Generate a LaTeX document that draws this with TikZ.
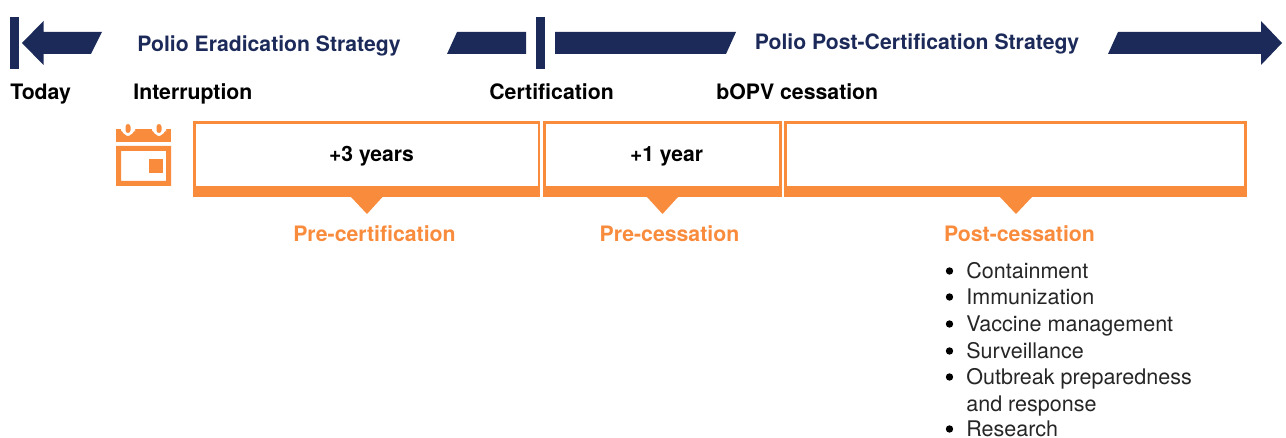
\documentclass[tikz,border=0pt]{standalone}
\usepackage{fontspec}
\setmainfont{TeX Gyre Heros}
\definecolor{navyblue}{HTML}{1C2A5A}
\definecolor{polioorange}{HTML}{F98B3D}
\tikzset{
  navyshape/.style={fill=navyblue, draw=none},
  orangeshape/.style={fill=polioorange, draw=none},
  periodbox/.style={draw=polioorange, line width=1.2pt},
  strategylabel/.style={text=navyblue, inner sep=0pt, font=\fontsize{12.05}{15}\selectfont\bfseries},
  milestone/.style={anchor=base west, inner sep=0pt, font=\fontsize{12.1}{15}\selectfont\bfseries},
  duration/.style={inner sep=0pt, font=\fontsize{12}{15}\selectfont\bfseries},
  phaselabel/.style={text=polioorange, inner sep=0pt, font=\fontsize{12.1}{15}\selectfont\bfseries},
  listitem/.style={anchor=base west, inner sep=0pt, text=black!85, font=\fontsize{12.25}{15}\selectfont},
  bulletdot/.style={circle, fill=black, inner sep=0pt, minimum size=4.2pt}
}
\begin{document}
\begin{tikzpicture}[x=0.02cm, y=-0.02cm]
  \useasboundingbox (0,0) rectangle (1286,438);
  % strategy arrows
  \fill[navyshape] (10,17) rectangle (19,69);
  \fill[navyshape] (22,43) -- (43.5,21) -- (43.5,32) -- (102,32) -- (91,54) -- (43.5,54) -- (43.5,65) -- cycle;
  \fill[navyshape] (447,54) -- (457,32) -- (526,32) -- (526,54) -- cycle;
  \fill[navyshape] (536,17) rectangle (545,69);
  \fill[navyshape] (555,32) -- (736,32) -- (726,54) -- (555,54) -- cycle;
  \fill[navyshape] (1108,54) -- (1118,32) -- (1261,32) -- (1261,21) -- (1282,43) -- (1261,65) -- (1261,54) -- cycle;
  \node[strategylabel] (eradication) at (269,46) {Polio Eradication Strategy};
  \node[strategylabel] (postcert) at (917,44) {Polio Post-Certification Strategy};
  % milestones
  \node[milestone] (today) at (10,100) {Today};
  \node[milestone] (interruption) at (133,100) {Interruption};
  \node[milestone] (certification) at (489,100) {Certification};
  \node[milestone] (cessation) at (716,100) {bOPV cessation};
  % calendar
  \fill[orangeshape] (116,129) rectangle (171,142);
  \fill[white, rounded corners=5pt] (121,123) rectangle (135,136);
  \fill[white, rounded corners=5pt] (152,123) rectangle (166,136);
  \fill[orangeshape, rounded corners=1.5pt] (125.5,124) rectangle (130.5,133);
  \fill[orangeshape, rounded corners=1.5pt] (156.5,124) rectangle (161.5,133);
  \fill[orangeshape, even odd rule] (116,146) rectangle (171,186) (121,151) rectangle (166,181);
  \fill[orangeshape] (149,159) rectangle (163,173);
  % periods
  \draw[periodbox] (194.5,122.5) rectangle (539,196);
  \fill[orangeshape] (194,186) rectangle (539.5,197);
  \fill[orangeshape] (351,197) -- (382.5,197) -- (367,214) -- cycle;
  \draw[periodbox] (544.5,122.5) rectangle (780.5,196);
  \fill[orangeshape] (544,186) rectangle (781,197);
  \fill[orangeshape] (647,197) -- (678,197) -- (662.5,214) -- cycle;
  \draw[periodbox] (785.5,122.5) rectangle (1245.5,196);
  \fill[orangeshape] (785,186) rectangle (1246,197);
  \fill[orangeshape] (1000,197) -- (1032,197) -- (1016,214) -- cycle;
  \node[duration] (threeyears) at (371.5,156) {+3 years};
  \node[duration] (oneyear) at (666.5,156) {+1 year};
  \node[phaselabel] (precert) at (374.5,233.5) {Pre-certification};
  \node[phaselabel] (precess) at (669.5,233.5) {Pre-cessation};
  \node[phaselabel] (postcess) at (1019.5,233.5) {Post-cessation};
  % post-cessation list
  \foreach \y/\name/\item in {279/contain/Containment, 305/immun/Immunization, 332/vaccine/Vaccine management, 359/surveil/Surveillance, 385/outbreak/Outbreak preparedness, 437/research/Research} {
    \node[bulletdot] (bullet\name) at (949.5,\y-8) {};
    \node[listitem] (\name) at (966,\y) {\item};
  }
  \node[listitem] (response) at (966,412) {and response};
\end{tikzpicture}
\end{document}
